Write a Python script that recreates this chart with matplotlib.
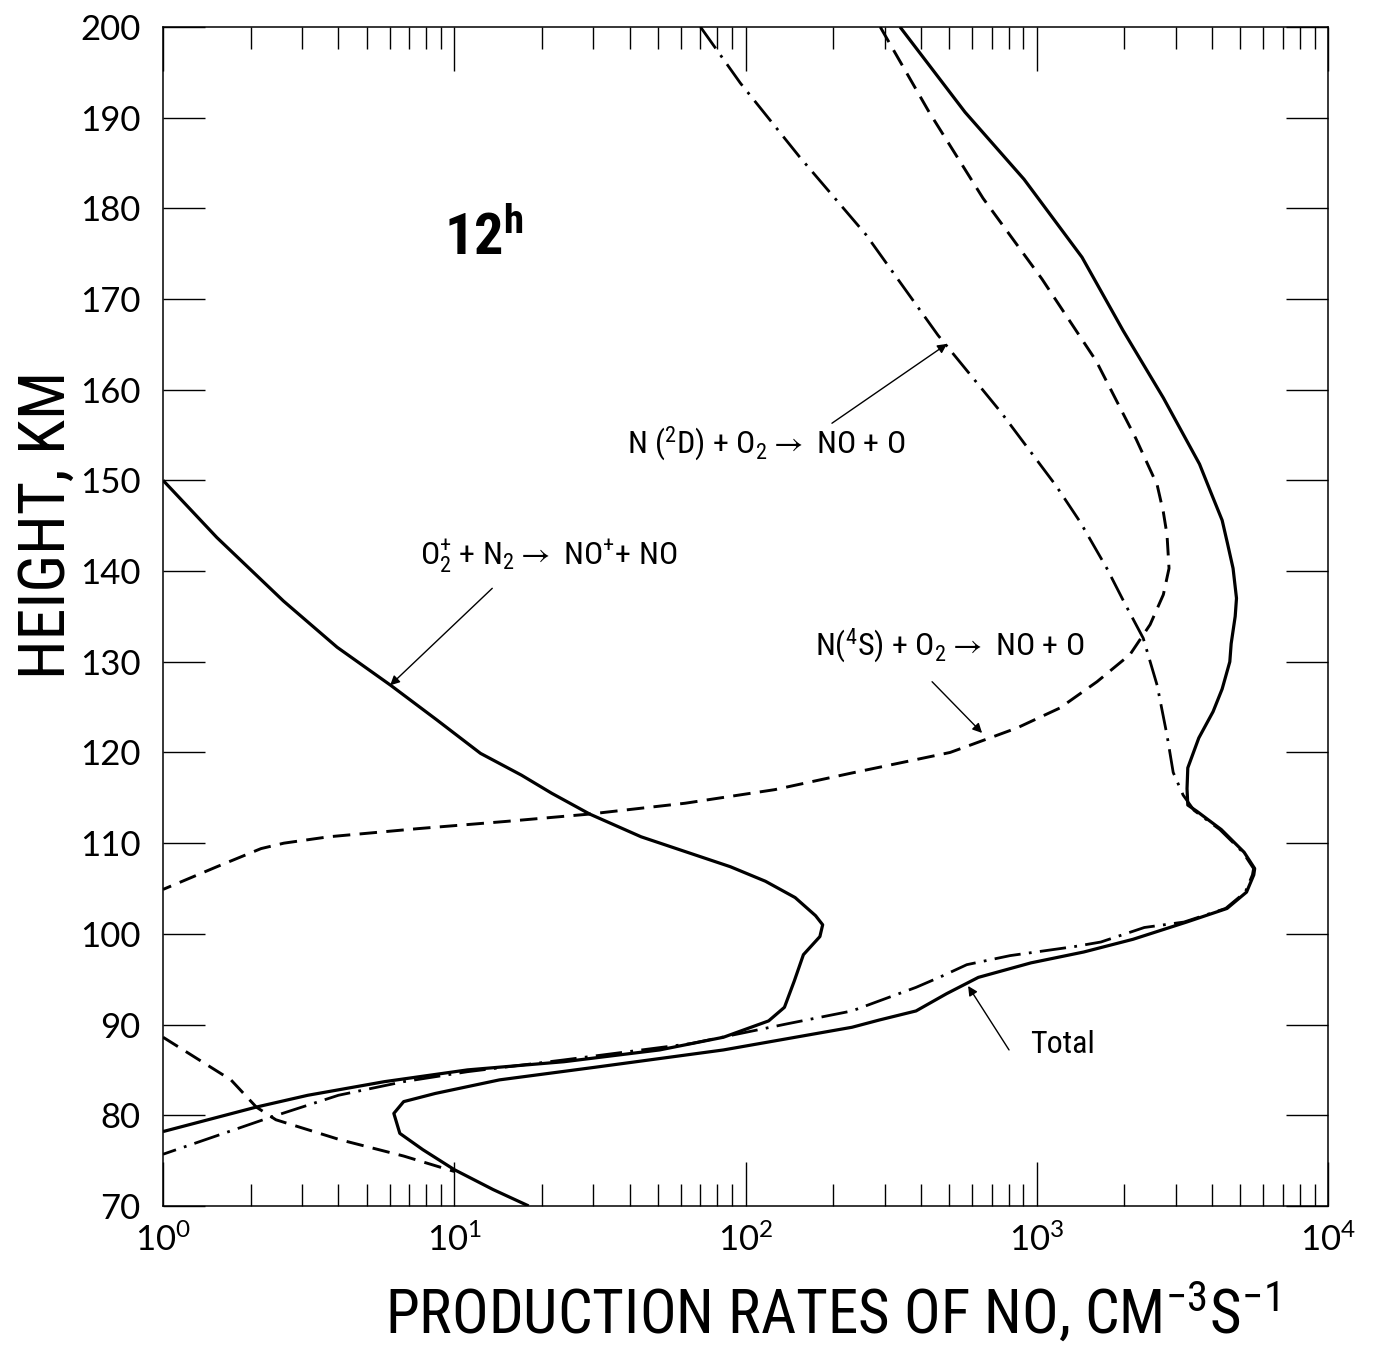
"""
Height profiles of NO production rates at 12h, one curve per reaction plus the total.
"""

import matplotlib

matplotlib.use("Agg")

import matplotlib.pyplot as plt
from matplotlib.ticker import FixedLocator, LogLocator, NullFormatter

# tick labels use a plain face, everything else a condensed face
PLAIN = ["Lato", "DejaVu Sans"]
NARROW = ["Roboto Condensed", "DejaVu Sans"]

plt.rcParams["font.family"] = PLAIN
plt.rcParams["mathtext.default"] = "regular"

# --- data: height (km) and production rate (cm^-3 s^-1) ---
TOTAL_KM = [200, 190.6, 183.2, 174.6, 166.5, 159.1, 151.8, 148.5, 145.6, 143.0,
            140.3, 137.0, 135.0, 132.0, 130.0, 127.0, 124.5, 121.6, 118.3, 116.0,
            114.2, 113.5, 111.5, 109.0, 107.2, 106.5, 104.6, 102.8, 101.3, 99.4,
            98.0, 96.8, 95.2, 93.4, 91.5, 90.5, 89.7, 87.2, 85.3, 83.9,
            82.4, 81.5, 80.2, 78.0, 76.2, 74.0, 71.8, 70.0]
TOTAL_RATE = [339, 567, 904, 1430, 1980, 2720, 3620, 3980, 4330, 4520,
              4720, 4850, 4800, 4650, 4600, 4330, 4030, 3600, 3300, 3280,
              3300, 3550, 4300, 5150, 5600, 5560, 5250, 4500, 3270, 2140,
              1450, 955, 630, 490, 385, 288, 232, 84, 30.6, 14.3,
              8.6, 6.7, 6.2, 6.5, 7.8, 10.0, 13.6, 18.0]

N2D_KM = [200, 193.8, 185.7, 177.1, 166.0, 157.5, 149.4, 145.4, 140.3, 136.5,
          132.6, 127.4, 121.9, 117.8, 115.3, 113.6, 111.5, 109.0, 107.2, 106.5,
          104.6, 102.8, 101.3, 100.7, 99.1, 98.6, 97.6, 96.6, 95.3, 94.1,
          91.5, 90.1, 87.9, 86.1, 84.8, 83.7, 82.2, 79.7, 75.7]
N2D_RATE = [70, 96, 153, 259, 458, 754, 1165, 1410, 1740, 2000,
            2320, 2590, 2800, 2940, 3180, 3470, 4250, 5100, 5550, 5500,
            5200, 4450, 3200, 2340, 1660, 1350, 810, 575, 470, 385,
            232, 140, 65, 23.8, 11.1, 6.7, 4.0, 2.3, 1.0]

N4S_KM = [200, 190.6, 181.1, 172.2, 163.2, 154.6, 149.5, 146.5, 144.0, 140.3,
          137.4, 134.1, 130.8, 127.8, 124.9, 122.7, 120.8, 120.0, 117.7, 115.9,
          114.4, 113.2, 112.4, 111.6, 110.7, 110.0, 109.4, 107.4, 104.9]
N4S_RATE = [290, 427, 654, 1042, 1597, 2190, 2590, 2720, 2800, 2845,
            2720, 2450, 2090, 1610, 1200, 855, 590, 504, 229, 126,
            62, 29, 15.1, 7.5, 3.7, 2.6, 2.17, 1.53, 1.0]

# lower branch of the N(4S) curve, below the gap where it drops under 1
N4S_LOW_KM = [88.6, 86.1, 83.9, 80.9, 79.5, 77.3, 75.5, 73.8]
N4S_LOW_RATE = [1.0, 1.33, 1.71, 2.09, 2.44, 4.05, 6.7, 10.0]

O2P_KM = [150, 143.7, 136.7, 131.6, 127.4, 123.6, 119.9, 117.5, 115.5, 113.2,
          110.7, 107.4, 105.8, 104.0, 102.0, 101.0, 99.7, 97.7, 94.8, 91.9,
          90.4, 88.6, 87.2, 85.9, 85.0, 84.2, 83.7, 82.2, 80.9, 78.2]
O2P_RATE = [1.0, 1.53, 2.59, 3.96, 6.05, 8.7, 12.3, 17.0, 21.6, 29.2,
            43.8, 88.7, 117, 148, 174, 184, 180, 158, 147, 136,
            120, 84, 50.7, 23.8, 11.1, 7.4, 5.75, 3.14, 2.09, 1.0]

HEIGHT_TICKS = list(range(70, 201, 10))


def draw(save_to="out.png"):
    fig = plt.figure(figsize=(13.89, 13.45), dpi=100)
    ax = fig.add_axes([0.1174, 0.1034, 0.8387, 0.8766])

    solid = dict(color="k", lw=2.3, solid_capstyle="butt")
    dashed = dict(color="k", lw=2.1, dashes=(6, 3.2))
    dashdot = dict(color="k", lw=2.0, dashes=(9.5, 3, 1, 3))

    ax.plot(TOTAL_RATE, TOTAL_KM, **solid)
    ax.plot(O2P_RATE, O2P_KM, **solid)
    ax.plot(N4S_RATE, N4S_KM, **dashed)
    ax.plot(N4S_LOW_RATE, N4S_LOW_KM, **dashed)
    ax.plot(N2D_RATE, N2D_KM, **dashdot)

    ax.set_xscale("log")
    ax.set_xlim(1, 1e4)
    ax.set_ylim(70, 200)

    ax.xaxis.set_major_locator(LogLocator(base=10))
    ax.xaxis.set_minor_locator(LogLocator(base=10, subs=range(2, 10)))
    ax.xaxis.set_minor_formatter(NullFormatter())
    ax.yaxis.set_major_locator(FixedLocator(HEIGHT_TICKS))

    ax.tick_params(axis="x", which="major", direction="in", top=True,
                   length=32, width=1.0, pad=12, labelsize=25)
    ax.tick_params(axis="x", which="minor", direction="in", top=True,
                   length=16, width=1.0)
    ax.tick_params(axis="y", which="major", direction="in", right=True,
                   length=30, width=1.0, pad=16, labelsize=25)
    for spine in ax.spines.values():
        spine.set_linewidth(1.1)

    # axis titles
    narrow = dict(family=NARROW, stretch="condensed", weight="normal")
    fig.text(0.034, 0.61, "HEIGHT, KM", rotation=90, ha="center", va="center",
             fontsize=46, **narrow)
    fig.text(0.599, 0.024, "PRODUCTION RATES OF NO, CM$^{-3}$S$^{-1}$",
             ha="center", va="center", fontsize=44, **narrow)

    label = dict(fontsize=23, color="k", **narrow)
    arrow = dict(arrowstyle="-|>", color="k", lw=1.0, mutation_scale=14,
                 shrinkA=0, shrinkB=0)

    ax.text(9.2, 174.9, "12$^{h}$", ha="left", va="baseline",
            family=NARROW, stretch="condensed", weight="bold", fontsize=42)

    ax.text(39.2, 154.1, "N ($^{2}$D) + O$_{2}$$\\rightarrow$ NO + O",
            ha="left", va="center", **label)
    ax.annotate("", xy=(492, 165.05), xytext=(198, 156.3), arrowprops=arrow)

    ax.text(7.63, 141.6, "O$_{2}^{+}$ + N$_{2}$$\\rightarrow$ NO$^{+}$+ NO",
            ha="left", va="center", **label)
    ax.annotate("", xy=(6.02, 127.4), xytext=(13.5, 138.1), arrowprops=arrow)

    ax.text(173, 131.75, "N($^{4}$S) + O$_{2}$$\\rightarrow$ NO + O",
            ha="left", va="center", **label)
    ax.annotate("", xy=(649, 122.15), xytext=(437, 127.8), arrowprops=arrow)

    ax.text(948, 87.75, "Total", ha="left", va="center", **label)
    ax.annotate("", xy=(581, 94.25), xytext=(803, 87.2), arrowprops=arrow)

    fig.savefig(save_to, dpi=100)


if __name__ == "__main__":
    draw()
